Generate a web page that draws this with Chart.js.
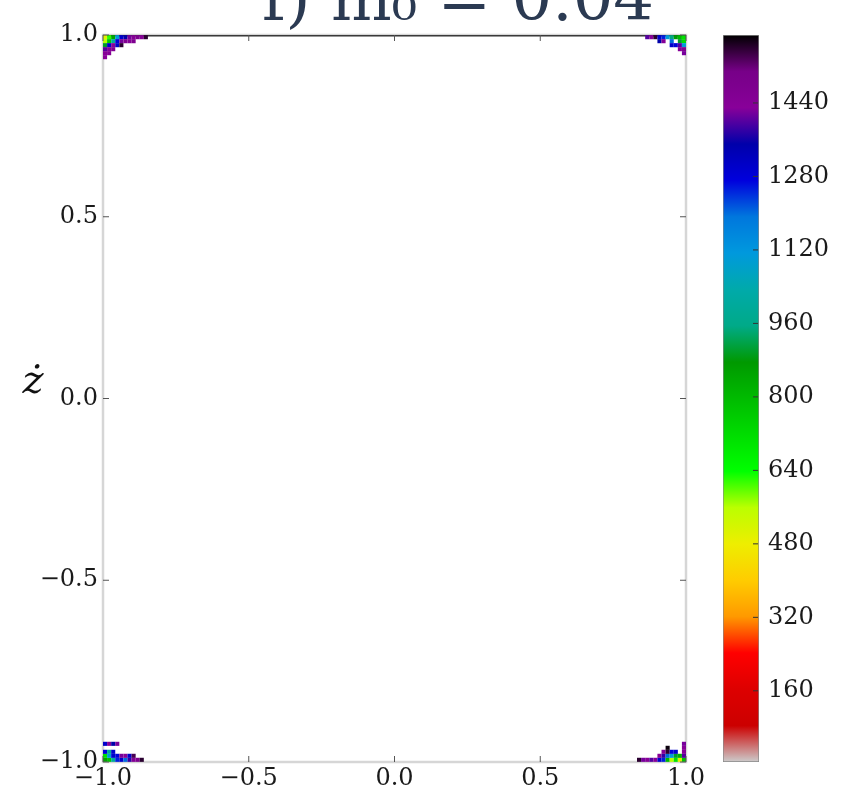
<!DOCTYPE html>
<html>
<head>
<meta charset="utf-8">
<script src="https://cdn.jsdelivr.net/npm/chart.js@4.4.1/dist/chart.umd.min.js"></script>
<style>
  html, body { margin: 0; padding: 0; background: #fff; }
  #wrap { position: relative; width: 846px; height: 790px; }
  #wrap canvas { position: absolute; left: 0; top: 0; }
</style>
</head>
<body>
<div id="wrap">
  <canvas id="field" width="846" height="790"></canvas>
  <canvas id="cbar" width="846" height="790"></canvas>
</div>
<script>
const titleText = "f) m\u2080 = 0.04";
const yLabel = "\u017C";

const xTicks = [-1, -0.5, 0, 0.5, 1];
const zTicks = [-1, -0.5, 0, 0.5, 1];
const cbarTicks = [160, 320, 480, 640, 800, 960, 1120, 1280, 1440];
const cbarRange = [5, 1588];

// dense points along the upper wall
const wallX = [-1, 1];
const wallZ = [1, 1];

// cells in the four corners (x, z, value)
const cellX = [
  // top left
  -0.993, -0.979, -0.965, -0.951, -0.937, -0.923, -0.909, -0.895, -0.881, -0.867, -0.853,
  -0.993, -0.979, -0.965, -0.951, -0.937, -0.923, -0.909, -0.895,
  -0.993, -0.979, -0.965, -0.951, -0.937,
  -0.993, -0.979, -0.965,
  -0.993, -0.979,
  -0.993,
  // top right
  0.867, 0.881, 0.895, 0.909, 0.923, 0.937, 0.951, 0.965, 0.979, 0.993,
  0.909, 0.923, 0.951, 0.979, 0.993,
  0.951, 0.965, 0.979, 0.993,
  0.979, 0.993,
  0.993,
  // bottom left
  -0.993, -0.979, -0.965, -0.951, -0.937, -0.923, -0.909, -0.895, -0.881, -0.867,
  -0.993, -0.979, -0.965, -0.951, -0.937, -0.923, -0.909, -0.895,
  -0.993, -0.979, -0.965,
  -0.993, -0.979, -0.965, -0.951,
  // bottom right
  0.839, 0.853, 0.867, 0.881, 0.895, 0.909, 0.923, 0.937, 0.951, 0.965, 0.979, 0.993,
  0.909, 0.923, 0.937, 0.951, 0.965, 0.979, 0.993,
  0.923, 0.937, 0.951, 0.965, 0.993,
  0.937, 0.993,
  0.993,
];
const cellZ = [
  0.994, 0.994, 0.994, 0.994, 0.994, 0.994, 0.994, 0.994, 0.994, 0.994, 0.994,
  0.983, 0.983, 0.983, 0.983, 0.983, 0.983, 0.983, 0.983,
  0.972, 0.972, 0.972, 0.972, 0.972,
  0.961, 0.961, 0.961,
  0.950, 0.950,
  0.939,
  0.994, 0.994, 0.994, 0.994, 0.994, 0.994, 0.994, 0.994, 0.994, 0.994,
  0.983, 0.983, 0.983, 0.983, 0.983,
  0.972, 0.972, 0.972, 0.972,
  0.961, 0.961,
  0.950,
  -0.994, -0.994, -0.994, -0.994, -0.994, -0.994, -0.994, -0.994, -0.994, -0.994,
  -0.983, -0.983, -0.983, -0.983, -0.983, -0.983, -0.983, -0.983,
  -0.972, -0.972, -0.972,
  -0.950, -0.950, -0.950, -0.950,
  -0.994, -0.994, -0.994, -0.994, -0.994, -0.994, -0.994, -0.994, -0.994, -0.994, -0.994, -0.994,
  -0.983, -0.983, -0.983, -0.983, -0.983, -0.983, -0.983,
  -0.972, -0.972, -0.972, -0.972, -0.972,
  -0.961, -0.961,
  -0.950,
];
const cellV = [
  500, 620, 850, 1100, 1300, 1350, 1420, 1450, 1480, 1440, 1560,
  560, 760, 1000, 1280, 1420, 1460, 1440, 1470,
  900, 1300, 1440, 1300, 1560,
  1400, 1440, 1460,
  1440, 1450,
  1430,
  1400, 1430, 1560, 1300, 1250, 1100, 950, 880, 800, 700,
  1350, 1440, 1200, 900, 720,
  1300, 1280, 1400, 1100,
  1440, 1460,
  1420,
  850, 780, 1000, 1250, 1300, 1200, 1380, 1450, 1480, 1560,
  700, 1100, 1300, 1280, 1420, 1440, 1300, 1540,
  1280, 1000, 1300,
  1300, 1440, 1350, 1420,
  1560, 1420, 1440, 1400, 1440, 1300, 1250, 800, 560, 700, 500, 780,
  1440, 1380, 1200, 1100, 900, 820, 1400,
  1440, 1560, 1280, 1300, 1440,
  1580, 1440,
  1420,
];

// nipy_spectral control points, 21 evenly spaced stops
const SPECTRAL = [
  [0, 0, 0], [0.4667, 0, 0.5333], [0.5333, 0, 0.6], [0, 0, 0.6667], [0, 0, 0.8667],
  [0, 0.4667, 0.8667], [0, 0.6, 0.8667], [0, 0.6667, 0.6667], [0, 0.6667, 0.5333], [0, 0.6, 0],
  [0, 0.7333, 0], [0, 0.8667, 0], [0, 1, 0], [0.7333, 1, 0], [0.9333, 0.9333, 0],
  [1, 0.8, 0], [1, 0.6, 0], [1, 0, 0], [0.8667, 0, 0], [0.8, 0, 0], [0.8, 0.8, 0.8],
];

function spectral(t) {
  t = Math.min(1, Math.max(0, t));
  const pos = t * (SPECTRAL.length - 1);
  const i = Math.min(SPECTRAL.length - 2, Math.floor(pos));
  const f = pos - i;
  const c = SPECTRAL[i].map((a, k) => Math.round(255 * (a + (SPECTRAL[i + 1][k] - a) * f)));
  return `rgb(${c[0]},${c[1]},${c[2]})`;
}

// reversed map: low values grey, high values black
const valueColor = (v) => spectral(1 - (v - cbarRange[0]) / (cbarRange[1] - cbarRange[0]));

const fmt = (v) => (v < 0 ? "\u2212" : "") + Math.abs(v).toFixed(1);
const tickFont = { family: "DejaVu Serif", size: 24 };
const tickColor = "#1a1a1a";

const framePlugin = {
  id: "frame",
  beforeDatasetsDraw(chart) {
    const { ctx, chartArea: a } = chart;
    ctx.save();
    ctx.strokeStyle = "#d6d6d6";
    ctx.lineWidth = 2.5;
    ctx.strokeRect(a.left, a.top, a.right - a.left, a.bottom - a.top);
    ctx.restore();
  },
  afterDraw(chart) {
    const { ctx, chartArea: a, scales } = chart;
    ctx.save();
    ctx.strokeStyle = "#555";
    ctx.lineWidth = 1;
    ctx.beginPath();
    scales.x.ticks.forEach((t) => {
      const px = scales.x.getPixelForValue(t.value);
      ctx.moveTo(px, a.bottom); ctx.lineTo(px, a.bottom - 6);
      ctx.moveTo(px, a.top); ctx.lineTo(px, a.top + 6);
    });
    scales.y.ticks.forEach((t) => {
      const py = scales.y.getPixelForValue(t.value);
      ctx.moveTo(a.left, py); ctx.lineTo(a.left + 6, py);
      ctx.moveTo(a.right, py); ctx.lineTo(a.right - 6, py);
    });
    ctx.stroke();

    // title, partly cut by the top of the picture
    ctx.fillStyle = "#2b3a52";
    ctx.font = '64px "DejaVu Serif"';
    ctx.textAlign = "center";
    ctx.textBaseline = "alphabetic";
    ctx.fillText(titleText, 458, 20);

    ctx.fillStyle = "#111";
    ctx.font = 'italic 40px "DejaVu Serif"';
    ctx.fillText(yLabel, a.left - 70, (a.top + a.bottom) / 2 - 6);
    ctx.restore();
  },
};

new Chart(document.getElementById("field"), {
  type: "scatter",
  data: {
    datasets: [
      {
        type: "line",
        data: wallX.map((x, i) => ({ x, y: wallZ[i] })),
        borderColor: "#3a3a3a",
        borderWidth: 3,
        pointRadius: 0,
        order: 2,
      },
      {
        data: cellX.map((x, i) => ({ x, y: cellZ[i] })),
        pointStyle: "rect",
        pointRadius: 2.9,
        pointHoverRadius: 2.9,
        backgroundColor: cellV.map(valueColor),
        borderWidth: 0,
        order: 1,
      },
    ],
  },
  options: {
    responsive: false,
    animation: false,
    events: [],
    layout: { padding: { left: 0, right: 160, top: 35, bottom: 0 } },
    plugins: { legend: { display: false }, tooltip: { enabled: false } },
    scales: {
      x: {
        type: "linear",
        min: -1,
        max: 1,
        afterBuildTicks: (s) => { s.ticks = xTicks.map((value) => ({ value })); },
        afterFit: (s) => { s.height = 28; },
        grid: { display: false, drawTicks: false },
        border: { display: false },
        ticks: { callback: fmt, font: tickFont, color: tickColor, padding: 2, maxRotation: 0, autoSkip: false },
      },
      y: {
        type: "linear",
        min: -1,
        max: 1,
        afterBuildTicks: (s) => { s.ticks = zTicks.map((value) => ({ value })); },
        afterFit: (s) => { s.width = 103; },
        grid: { display: false, drawTicks: false },
        border: { display: false },
        ticks: { callback: fmt, font: tickFont, color: tickColor, padding: 5, autoSkip: false },
      },
    },
  },
  plugins: [framePlugin],
});

const cbarTickPlugin = {
  id: "cbarTicks",
  afterDraw(chart) {
    const { ctx, chartArea: a, scales } = chart;
    ctx.save();
    ctx.strokeStyle = "#333";
    ctx.lineWidth = 1;
    ctx.beginPath();
    scales.y.ticks.forEach((t) => {
      const py = scales.y.getPixelForValue(t.value);
      ctx.moveTo(a.right - 1, py); ctx.lineTo(a.right - 6, py);
    });
    ctx.stroke();
    ctx.restore();
  },
};

new Chart(document.getElementById("cbar"), {
  type: "bar",
  data: {
    labels: [""],
    datasets: [{
      data: [cbarRange],
      backgroundColor: (c) => {
        const a = c.chart.chartArea;
        if (!a) return "#888";
        const g = c.chart.ctx.createLinearGradient(0, a.bottom, 0, a.top);
        for (let i = 0; i <= 40; i++) g.addColorStop(i / 40, spectral(1 - i / 40));
        return g;
      },
      borderColor: "#888",
      borderWidth: 1,
      borderSkipped: false,
      barPercentage: 1,
      categoryPercentage: 1,
    }],
  },
  options: {
    responsive: false,
    animation: false,
    events: [],
    layout: { padding: { left: 723, right: 0, top: 35, bottom: 28 } },
    plugins: { legend: { display: false }, tooltip: { enabled: false } },
    scales: {
      x: { display: false },
      y: {
        position: "right",
        min: cbarRange[0],
        max: cbarRange[1],
        afterBuildTicks: (s) => { s.ticks = cbarTicks.map((value) => ({ value })); },
        afterFit: (s) => { s.width = 87; },
        grid: { display: false, drawTicks: false },
        border: { display: false },
        ticks: { callback: (v) => String(v), font: tickFont, color: tickColor, padding: 9, autoSkip: false },
      },
    },
  },
  plugins: [cbarTickPlugin],
});
</script>
</body>
</html>
